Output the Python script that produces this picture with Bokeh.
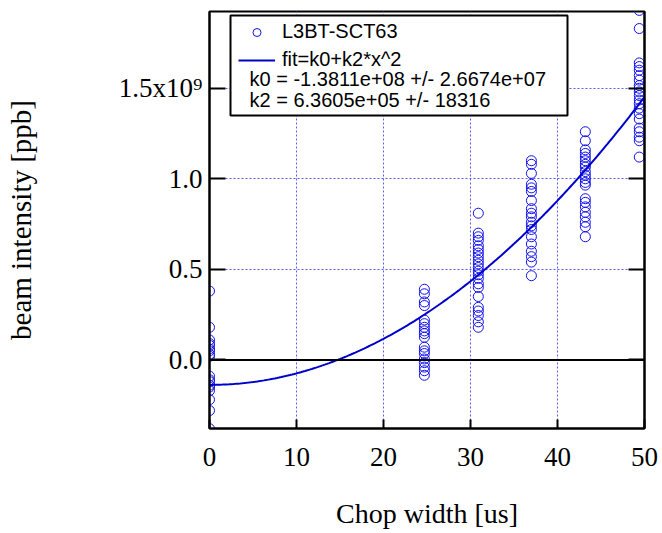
import numpy as np
from bokeh.plotting import figure
from bokeh.models import (Range1d, FixedTicker, LinearAxis, CustomJSTickFormatter, Legend,
                          LegendItem, BoxAnnotation, Label, Span)
from bokeh.embed import file_html
from bokeh.resources import INLINE

# ---------------- data (beam intensity in units of 1e9 ppb) ----------------
chop_widths = [0.0, 24.7, 30.9, 37.0, 43.2, 49.4]

intensity_cw00 = [0.38, 0.18, 0.11, 0.09, 0.08, 0.06, 0.05, 0.03, 0.02,
                  -0.09, -0.11, -0.12, -0.14, -0.15, -0.17, -0.22, -0.28, -0.38]
intensity_cw25 = [0.39, 0.365, 0.32, 0.30, 0.22, 0.20, 0.18, 0.16, 0.145, 0.125,
                  0.07, 0.05, 0.035, 0.005, -0.015, -0.04, -0.06, -0.085]
intensity_cw31 = [0.81, 0.70, 0.68, 0.66, 0.63, 0.61, 0.59, 0.57, 0.55, 0.53, 0.51,
                  0.49, 0.47, 0.45, 0.42, 0.40, 0.35, 0.29, 0.27, 0.245, 0.21, 0.18]
intensity_cw37 = [1.10, 1.08, 1.03, 0.97, 0.95, 0.93, 0.88, 0.835, 0.81, 0.79, 0.76,
                  0.74, 0.72, 0.68, 0.64, 0.60, 0.57, 0.54, 0.465]
intensity_cw43 = [1.26, 1.21, 1.16, 1.14, 1.12, 1.10, 1.08, 1.065, 1.04, 1.02, 1.00,
                  0.98, 0.965, 0.89, 0.87, 0.845, 0.815, 0.79, 0.76, 0.735, 0.68]
intensity_cw49 = [1.93, 1.83, 1.64, 1.62, 1.60, 1.57, 1.545, 1.515, 1.50, 1.48, 1.46,
                  1.435, 1.415, 1.39, 1.36, 1.33, 1.28, 1.26, 1.23, 1.21, 1.12]

# fit coefficients as printed in the legend
K0 = -1.3811e+08
K2 = 6.3605e+05

x_ticks = [0, 10, 20, 30, 40, 50]
y_ticks = [0.0, 0.5, 1.0, 1.5]
x_grid_ticks = [10, 20, 30, 40]
y_grid_ticks = [0.5, 1.0, 1.5]

series_label = "L3BT-SCT63"
fit_label = "fit=k0+k2*x^2"
k0_text = "k0 = -1.3811e+08 +/- 2.6674e+07"
k2_text = "k2 = 6.3605e+05 +/- 18316"

# ---------------- build ----------------
groups = [intensity_cw00, intensity_cw25, intensity_cw31,
          intensity_cw37, intensity_cw43, intensity_cw49]
xs, ys = [], []
for cw, vals in zip(chop_widths, groups):
    xs += [cw] * len(vals)
    ys += vals

fit_x = np.linspace(0, 50, 201)
fit_y = (K0 + K2 * fit_x ** 2) / 1e9

BLUE = "#1010ee"
FIT_BLUE = "#0000cc"
GRID_BLUE = "#5a5aff"
SERIF = "Liberation Serif"
SANS = "Liberation Sans"

p = figure(frame_width=435, frame_height=417,
           min_border_left=209, min_border_right=14, min_border_top=11, min_border_bottom=104,
           x_range=Range1d(0, 50), y_range=Range1d(-0.379, 1.924),
           output_backend="svg", toolbar_location=None,
           x_axis_label="Chop width [us]", y_axis_label="beam intensity [ppb]")

p.outline_line_color = "black"
p.outline_line_width = 2
p.background_fill_color = "white"
p.border_fill_color = "white"

# grids
p.xgrid.ticker = FixedTicker(ticks=x_grid_ticks)
p.ygrid.ticker = FixedTicker(ticks=y_grid_ticks)
for g in (p.xgrid, p.ygrid):
    g.grid_line_color = GRID_BLUE
    g.grid_line_dash = "2 2"
    g.grid_line_width = 1

p.add_layout(Span(location=0, dimension="width", line_color="black", line_width=2))

# axes
xa = p.xaxis[0]
xa.ticker = FixedTicker(ticks=x_ticks)
ya = p.yaxis[0]
ya.ticker = FixedTicker(ticks=y_ticks)
ya.formatter = CustomJSTickFormatter(code="""
if (Math.abs(tick - 1.5) < 1e-9) { return "1.5x10\u2079"; }
return tick.toFixed(1);
""")
for ax in (xa, ya):
    ax.axis_line_color = "black"
    ax.axis_line_width = 2
    ax.major_tick_line_color = "black"
    ax.major_tick_line_width = 2
    ax.major_tick_out = 0
    ax.minor_tick_in = 0
    ax.minor_tick_out = 0
    ax.major_label_text_font = SERIF
    ax.major_label_text_font_size = "27px"
    ax.major_label_text_color = "black"
    ax.axis_label_text_font = SERIF
    ax.axis_label_text_font_style = "normal"
    ax.axis_label_text_color = "black"
xa.axis_label_text_font_size = "28px"
ya.axis_label_text_font_size = "29px"
xa.major_tick_in = 9
ya.major_tick_in = 16
xa.major_label_standoff = 19
xa.axis_label_standoff = 29
ya.major_label_standoff = 7
ya.axis_label_standoff = 79

ra = LinearAxis(ticker=FixedTicker(ticks=y_ticks),
                formatter=CustomJSTickFormatter(code="return '';"),
                axis_line_color="black", axis_line_width=2,
                major_tick_line_color="black", major_tick_line_width=2,
                major_tick_in=16, major_tick_out=0, minor_tick_in=0, minor_tick_out=0,
                major_label_text_font_size="0px", major_label_standoff=0)
p.add_layout(ra, "right")

# data
sc = p.scatter(xs, ys, marker="circle", size=10, fill_color=None,
               line_color=BLUE, line_width=1)
ln = p.line(fit_x, fit_y, line_color=FIT_BLUE, line_width=2)

# legend box
box = BoxAnnotation(left=21, right=358, top=413, bottom=313,
                    left_units="screen", right_units="screen",
                    top_units="screen", bottom_units="screen",
                    fill_color="white", fill_alpha=1.0,
                    line_color="black", line_alpha=1.0, line_width=2,
                    level="overlay")
p.add_layout(box)

legend = Legend(items=[LegendItem(label=series_label, renderers=[sc]),
                       LegendItem(label=fit_label, renderers=[ln])],
                location=(24, 352), border_line_alpha=0, background_fill_alpha=0,
                label_text_font=SANS, label_text_font_size="20px",
                label_text_color="black",
                glyph_width=37, glyph_height=20, label_height=20,
                label_standoff=7, spacing=5, padding=5, margin=0,
                level="overlay")
p.add_layout(legend, "center")

for txt, yy in ((k0_text, 350), (k2_text, 329)):
    p.add_layout(Label(x=40, y=yy, x_units="screen", y_units="screen", text=txt,
                       text_font=SANS, text_font_size="20px",
                       text_baseline="middle", text_color="black", level="overlay"))

open("out.html", "w").write(file_html(p, INLINE))
